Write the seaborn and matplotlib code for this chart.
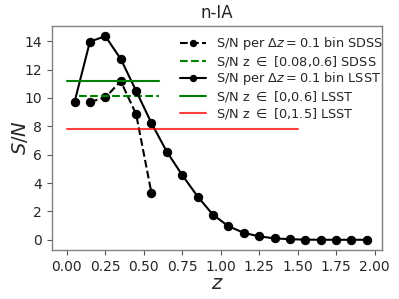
import matplotlib
matplotlib.use("Agg")
import matplotlib.pyplot as plt
import seaborn as sns
import numpy as np

sns.set_style("ticks")
plt.rcParams['font.family'] = ['DejaVu Sans']

z_sdss = [0.15, 0.25, 0.35, 0.45, 0.55]
sn_sdss = [9.72, 10.03, 11.18, 8.86, 3.29]

z_lsst = [0.05, 0.15, 0.25, 0.35, 0.45, 0.55, 0.65, 0.75, 0.85, 0.95,
          1.05, 1.15, 1.25, 1.35, 1.45, 1.55, 1.65, 1.75, 1.85, 1.95]
sn_lsst = [9.72, 13.97, 14.35, 12.75, 10.5, 8.22, 6.2, 4.56, 3.05, 1.76,
           0.96, 0.49, 0.24, 0.1, 0.04, 0.01, 0.0, 0.0, 0.0, 0.0]

sdss_range = [0.08, 0.6]
sdss_total = 10.12
lsst_range_a = [0.0, 0.6]
lsst_total_a = 11.16
lsst_range_b = [0.0, 1.5]
lsst_total_b = 7.84

labels = [r"S/N per $\Delta z = 0.1$ bin SDSS",
          r"S/N z $\in$ [0.08,0.6] SDSS",
          r"S/N per $\Delta z = 0.1$ bin LSST",
          r"S/N z $\in$ [0,0.6] LSST",
          r"S/N z $\in$ [0,1.5] LSST"]

fig = plt.figure(figsize=(3.99, 2.99), dpi=100)
ax = fig.add_axes([0.130, 0.164, 0.827, 0.749])

sns.lineplot(x=z_sdss, y=sn_sdss, ax=ax, color="black", linestyle="--",
             marker="o", markersize=6, markeredgecolor="black", label=labels[0])
sns.lineplot(x=sdss_range, y=[sdss_total] * 2, ax=ax, color="green",
             linestyle="--", label=labels[1])
sns.lineplot(x=z_lsst, y=sn_lsst, ax=ax, color="black", linestyle="-",
             marker="o", markersize=6, markeredgecolor="black", label=labels[2])
sns.lineplot(x=lsst_range_a, y=[lsst_total_a] * 2, ax=ax, color="green",
             linestyle="-", label=labels[3])
sns.lineplot(x=lsst_range_b, y=[lsst_total_b] * 2, ax=ax, color="red",
             linestyle="-", alpha=0.75, label=labels[4])

ax.set_xticks([0.0, 0.25, 0.5, 0.75, 1.0, 1.25, 1.5, 1.75, 2.0])
ax.set_yticks([0, 2, 4, 6, 8, 10, 12, 14])
ax.tick_params(labelsize=10, color="#555555")
for s in ax.spines.values():
    s.set_color("#808080")
    s.set_linewidth(1.0)

ax.set_title("n-IA", fontsize=12)
ax.set_xlabel(r"$z$", fontsize=14, labelpad=0)
ax.set_ylabel(r"$S/N$", fontsize=14, labelpad=-4)
leg = ax.legend(loc="upper right", bbox_to_anchor=(1.04, 1.01), frameon=False,
                fontsize=9.3, markerscale=0.75, labelspacing=0.12,
                handlelength=2.0)

fig.savefig("out.png", dpi=100)
